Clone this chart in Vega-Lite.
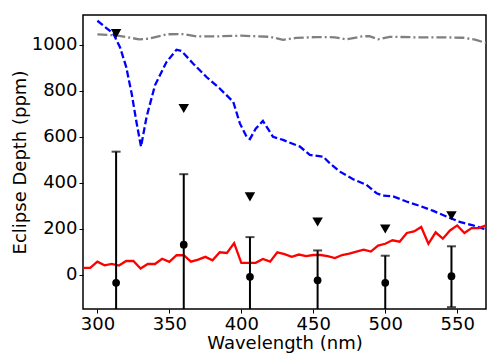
{
  "$schema": "https://vega.github.io/schema/vega-lite/v6.json",
  "autosize": "none",
  "width": 403,
  "height": 294,
  "padding": {"left": 83, "top": 15, "right": 16, "bottom": 54},
  "background": "white",
  "config": {
    "font": "DejaVu Sans",
    "view": {"stroke": "black", "strokeWidth": 1.5},
    "axis": {
      "domain": false,
      "grid": false,
      "ticks": true,
      "tickColor": "black",
      "tickSize": 4,
      "tickWidth": 1,
      "labelFont": "DejaVu Sans",
      "labelFontSize": 18,
      "labelColor": "black",
      "labelPadding": 2,
      "titleFont": "DejaVu Sans",
      "titleFontSize": 18,
      "titleFontWeight": "normal",
      "titleColor": "black"
    }
  },
  "datasets": {
    "gray": [
      {"w": 300, "d": 1046}, {"w": 313, "d": 1041}, {"w": 322, "d": 1032}, {"w": 329, "d": 1024},
      {"w": 336, "d": 1027}, {"w": 348, "d": 1046}, {"w": 360, "d": 1047}, {"w": 369, "d": 1037},
      {"w": 383, "d": 1037}, {"w": 400, "d": 1040}, {"w": 420, "d": 1035}, {"w": 429, "d": 1022},
      {"w": 438, "d": 1030}, {"w": 452, "d": 1034}, {"w": 465, "d": 1033}, {"w": 473, "d": 1024},
      {"w": 484, "d": 1037}, {"w": 489, "d": 1038}, {"w": 495, "d": 1024}, {"w": 503, "d": 1035},
      {"w": 520, "d": 1033}, {"w": 540, "d": 1033}, {"w": 554, "d": 1031}, {"w": 563, "d": 1022},
      {"w": 570, "d": 1008}
    ],
    "blue": [
      {"w": 300, "d": 1105}, {"w": 311, "d": 1049}, {"w": 315.7, "d": 990}, {"w": 320, "d": 904},
      {"w": 323.8, "d": 788}, {"w": 327.3, "d": 658}, {"w": 330.3, "d": 557}, {"w": 334.2, "d": 687},
      {"w": 340, "d": 824}, {"w": 348, "d": 925}, {"w": 355, "d": 979}, {"w": 358.5, "d": 973},
      {"w": 366.6, "d": 918}, {"w": 375.8, "d": 860}, {"w": 385, "d": 810}, {"w": 394.4, "d": 752},
      {"w": 399, "d": 658}, {"w": 403.7, "d": 600}, {"w": 406, "d": 590}, {"w": 410, "d": 635},
      {"w": 415, "d": 669}, {"w": 422, "d": 600}, {"w": 429, "d": 586}, {"w": 440.7, "d": 557},
      {"w": 447.6, "d": 521}, {"w": 456.9, "d": 513}, {"w": 461.5, "d": 484}, {"w": 468.5, "d": 448},
      {"w": 477.7, "d": 415}, {"w": 487, "d": 390}, {"w": 494, "d": 354}, {"w": 498.5, "d": 344},
      {"w": 505.5, "d": 340}, {"w": 514.7, "d": 318}, {"w": 524, "d": 299}, {"w": 533, "d": 278},
      {"w": 542.5, "d": 253}, {"w": 551.8, "d": 229}, {"w": 561, "d": 214}, {"w": 568, "d": 200},
      {"w": 570, "d": 197}
    ],
    "red": [
      {"w": 290, "d": 29}, {"w": 295, "d": 29}, {"w": 300, "d": 56}, {"w": 305, "d": 40},
      {"w": 310, "d": 46}, {"w": 315, "d": 39}, {"w": 320, "d": 59}, {"w": 325, "d": 59},
      {"w": 330, "d": 26}, {"w": 335, "d": 46}, {"w": 340, "d": 46}, {"w": 345, "d": 69},
      {"w": 350, "d": 55}, {"w": 355, "d": 84}, {"w": 360, "d": 84}, {"w": 365, "d": 56},
      {"w": 370, "d": 65}, {"w": 375, "d": 77}, {"w": 380, "d": 62}, {"w": 385, "d": 97},
      {"w": 390, "d": 94}, {"w": 395, "d": 137}, {"w": 400, "d": 51}, {"w": 405, "d": 51},
      {"w": 410, "d": 51}, {"w": 415, "d": 68}, {"w": 420, "d": 56}, {"w": 425, "d": 97},
      {"w": 430, "d": 89}, {"w": 435, "d": 77}, {"w": 440, "d": 87}, {"w": 445, "d": 80},
      {"w": 450, "d": 85}, {"w": 455, "d": 85}, {"w": 460, "d": 80}, {"w": 465, "d": 72},
      {"w": 470, "d": 85}, {"w": 475, "d": 91}, {"w": 480, "d": 100}, {"w": 485, "d": 108},
      {"w": 490, "d": 100}, {"w": 495, "d": 126}, {"w": 500, "d": 134}, {"w": 505, "d": 149},
      {"w": 510, "d": 143}, {"w": 515, "d": 181}, {"w": 520, "d": 188}, {"w": 525, "d": 207},
      {"w": 530, "d": 134}, {"w": 535, "d": 184}, {"w": 540, "d": 156}, {"w": 545, "d": 192},
      {"w": 550, "d": 214}, {"w": 555, "d": 181}, {"w": 560, "d": 202}, {"w": 565, "d": 202},
      {"w": 570, "d": 214}
    ],
    "obs": [
      {"w": 313, "d": -36, "lo": -607, "hi": 535, "lim": 1049},
      {"w": 360, "d": 130, "lo": -177, "hi": 437, "lim": 723},
      {"w": 406, "d": -10, "lo": -183, "hi": 163, "lim": 338},
      {"w": 453, "d": -25, "lo": -155, "hi": 105, "lim": 229},
      {"w": 500, "d": -36, "lo": -154, "hi": 82, "lim": 198},
      {"w": 546, "d": -7, "lo": -142, "hi": 123, "lim": 256}
    ]
  },
  "encoding": {
    "x": {
      "field": "w", "type": "quantitative",
      "scale": {"domain": [290, 570], "nice": false, "zero": false},
      "axis": {"values": [300, 350, 400, 450, 500, 550], "title": "Wavelength (nm)", "titlePadding": 1}
    }
  },
  "layer": [
    {
      "data": {"name": "gray"},
      "mark": {"type": "line", "color": "#808080", "strokeWidth": 2.3, "strokeDash": [10, 3, 2, 3], "clip": true},
      "encoding": {
        "y": {
          "field": "d", "type": "quantitative",
          "scale": {"domain": [-150, 1130], "nice": false, "zero": false},
          "axis": {"values": [0, 200, 400, 600, 800, 1000], "format": "d", "title": "Eclipse Depth (ppm)", "titlePadding": 2}
        }
      }
    },
    {
      "data": {"name": "blue"},
      "mark": {"type": "line", "color": "#0000ff", "strokeWidth": 2.3, "strokeDash": [7, 3], "clip": true},
      "encoding": {"y": {"field": "d", "type": "quantitative"}}
    },
    {
      "data": {"name": "red"},
      "mark": {"type": "line", "color": "#ff0000", "strokeWidth": 2.3, "clip": true},
      "encoding": {"y": {"field": "d", "type": "quantitative"}}
    },
    {
      "data": {"values": [{}]},
      "mark": {"type": "rule", "color": "black", "strokeWidth": 1},
      "encoding": {"y": {"datum": 0, "type": "quantitative"}}
    },
    {
      "data": {"name": "obs"},
      "mark": {"type": "rule", "color": "black", "strokeWidth": 2, "clip": true},
      "encoding": {"y": {"field": "lo", "type": "quantitative"}, "y2": {"field": "hi"}}
    },
    {
      "data": {"name": "obs"},
      "mark": {"type": "tick", "orient": "horizontal", "color": "black", "size": 9, "thickness": 2, "clip": true},
      "encoding": {"y": {"field": "hi", "type": "quantitative"}}
    },
    {
      "data": {"name": "obs"},
      "mark": {"type": "tick", "orient": "horizontal", "color": "black", "size": 9, "thickness": 2, "clip": true},
      "encoding": {"y": {"field": "lo", "type": "quantitative"}}
    },
    {
      "data": {"name": "obs"},
      "mark": {"type": "point", "shape": "circle", "filled": true, "color": "black", "size": 60, "opacity": 1},
      "encoding": {"y": {"field": "d", "type": "quantitative"}}
    },
    {
      "data": {"name": "obs"},
      "mark": {"type": "point", "shape": "triangle-down", "filled": true, "color": "black", "size": 110, "opacity": 1},
      "encoding": {"y": {"field": "lim", "type": "quantitative"}}
    }
  ]
}
